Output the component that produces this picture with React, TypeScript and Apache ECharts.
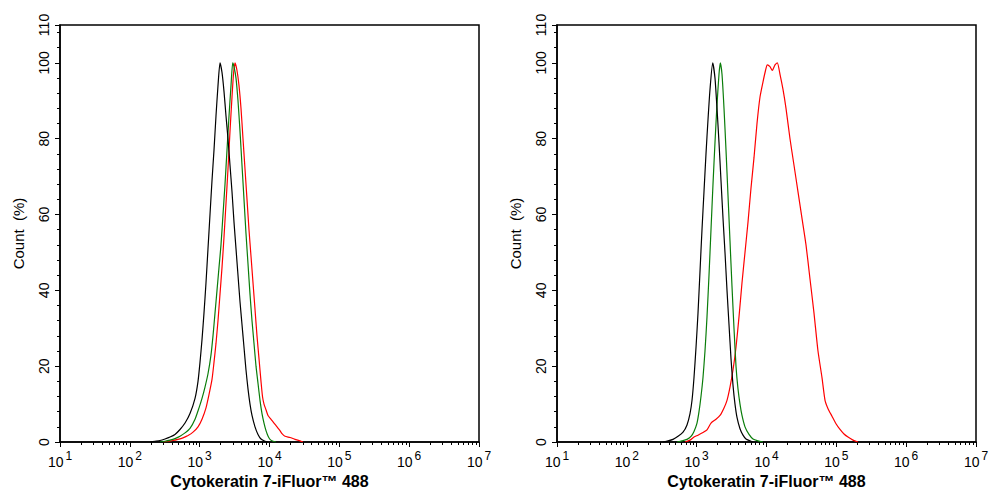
import React, { useEffect, useRef } from 'react';
import * as echarts from 'echarts';

// [fluorescence intensity, count %]
const leftBlack: number[][] = [
  [194.5, 0], [229, 0.2], [270, 0.4], [319, 0.8], [376, 1.3], [443, 2.0], [523, 3.3], [617, 5.0],
  [727, 7.5], [858, 11.5], [947, 16], [1011, 21], [1080, 27], [1153, 34], [1232, 42], [1316, 51],
  [1406, 60], [1502, 69], [1604, 77], [1713, 86], [1830, 94], [1955, 100], [2088, 97.5], [2230, 92.5],
  [2383, 86], [2545, 80], [2719, 73], [2904, 66], [3102, 58], [3313, 51], [3539, 44], [3781, 37],
  [4038, 31], [4313, 25], [4607, 19], [4921, 14], [5258, 10], [5616, 7], [6200, 4], [6844, 2],
  [7556, 0.8], [8622, 0.2], [9518, 0],
];
const leftGreen: number[][] = [
  [270, 0], [319, 0.2], [376, 0.5], [443, 0.9], [523, 1.5], [617, 2.4], [727, 3.6], [858, 6],
  [979, 9], [1080, 11.5], [1192, 14.5], [1316, 18], [1453, 23], [1552, 28], [1658, 34], [1771, 40],
  [1891, 46], [2020, 52], [2158, 60], [2306, 68], [2463, 77], [2631, 86], [2810, 94], [2972, 100],
  [3102, 99], [3313, 96], [3539, 90], [3781, 82], [4038, 73], [4313, 64], [4607, 55], [4921, 47],
  [5258, 39], [5616, 32], [5999, 26], [6408, 20], [6844, 15.5], [7311, 11], [7809, 7.5], [8342, 5],
  [8911, 3], [9518, 1.6], [10167, 0.7], [11224, 0.2], [12391, 0],
];
const leftRed: number[][] = [
  [298, 0], [352, 0.2], [415, 0.4], [489, 0.7], [577, 1.1], [681, 1.7], [803, 2.6], [947, 4.0],
  [1080, 6.0], [1232, 9], [1360, 12.5], [1502, 16.5], [1604, 21], [1713, 26], [1830, 32], [1955, 39],
  [2088, 46], [2230, 54], [2383, 63], [2545, 72], [2719, 82], [2904, 91], [3050, 97], [3206, 100],
  [3424, 98], [3658, 94], [3907, 88], [4174, 80], [4458, 72], [4762, 64], [5086, 56], [5434, 49],
  [5804, 42], [6200, 35], [6622, 28], [7074, 22], [7556, 16], [7939, 12], [8342, 10], [8911, 8.5],
  [9518, 7], [10508, 6], [11600, 5], [12806, 4], [14140, 3], [15104, 2.2], [16670, 1.5], [19660, 1.2],
  [23180, 0.7], [27340, 0.3], [30180, 0],
];
const rightBlack: number[][] = [
  [330, 0], [389, 0.3], [458, 0.7], [541, 1.5], [638, 2.6], [727, 4.5], [803, 7.5], [858, 11],
  [916, 17], [979, 25], [1045, 34], [1116, 45], [1192, 56], [1273, 66], [1360, 76], [1453, 85],
  [1552, 93], [1697, 100], [1830, 96], [1955, 88], [2088, 79], [2230, 69], [2383, 59], [2545, 50],
  [2719, 40], [2904, 31], [3102, 22], [3313, 15], [3539, 10], [3781, 6.5], [4174, 3.5], [4607, 1.8],
  [5086, 0.8], [5804, 0.3], [6408, 0],
];
const rightGreen: number[][] = [
  [523, 0], [617, 0.3], [727, 0.7], [830, 1.5], [916, 2.8], [1011, 5], [1080, 8], [1153, 12],
  [1232, 17], [1316, 24], [1406, 33], [1502, 44], [1604, 56], [1713, 68], [1830, 79], [1955, 89],
  [2088, 97], [2179, 100], [2306, 97], [2463, 88], [2631, 77], [2810, 65], [3001, 53], [3206, 41],
  [3424, 30], [3658, 20], [3907, 14], [4174, 10], [4458, 7], [4921, 4], [5616, 2], [6408, 0.8],
  [7556, 0.3], [8911, 0],
];
const rightRed: number[][] = [
  [681, 0], [803, 0.5], [916, 1.3], [1045, 1.8], [1232, 2.5], [1406, 3.2], [1604, 5], [1891, 6],
  [2158, 7], [2463, 9], [2719, 11], [3001, 14.5], [3313, 19], [3658, 25], [4038, 33], [4458, 42],
  [4921, 50], [5434, 58], [5999, 67], [6622, 75], [7311, 84], [8071, 91], [8911, 95], [9676, 98],
  [10268, 99.5], [11224, 99], [12109, 98], [13238, 99.5], [14280, 100], [15607, 97], [17228, 93],
  [19023, 88], [21702, 80], [24759, 73], [28256, 66], [32240, 59], [36783, 52], [41960, 43],
  [47876, 34], [54615, 24], [62320, 17], [68870, 11], [76030, 8.8], [86700, 6.8], [98900, 4.8],
  [112900, 3.3], [128800, 2.1], [146900, 1.3], [173400, 0.5], [204200, 0],
];

const xMin = 10;
const xMax = 1e7;
const yMax = 110;
const yMajorStep = 20;
const yMinorStep = 4;
const xTitle = 'Cytokeratin 7-iFluor\u2122 488';
const yTitle = 'Count  (%)';

const FONT = '"Liberation Sans", Arial, Helvetica, sans-serif';
const BLACK = '#000000';
const GREEN = '#0a7d0a';
const RED = '#ff0000';

export default function App() {
  const ref = useRef<HTMLDivElement>(null);

  useEffect(() => {
    if (!ref.current) return;
    const chart = echarts.init(ref.current, undefined, { renderer: 'svg' });

    const gridBase = { top: 25, width: 419, height: 417, show: true, borderColor: BLACK, borderWidth: 1.5 };

    const makeX = (gridIndex: number) => ({
      type: 'log',
      logBase: 10,
      gridIndex,
      min: xMin,
      max: xMax,
      position: 'bottom',
      axisLine: { show: true, lineStyle: { color: BLACK, width: 1.5 } },
      axisTick: { show: true, length: 5, lineStyle: { color: BLACK, width: 1 } },
      minorTick: { show: true, splitNumber: 9, length: 3, lineStyle: { color: BLACK, width: 1 } },
      splitLine: { show: false },
      minorSplitLine: { show: false },
      axisLabel: {
        margin: 8,
        formatter: (v: number) => `{b|10}{s|${Math.round(Math.log10(v))}}`,
        rich: {
          b: { fontFamily: FONT, fontSize: 14, color: BLACK, lineHeight: 24 },
          s: { fontFamily: FONT, fontSize: 12, color: BLACK, lineHeight: 14, verticalAlign: 'top', padding: [0, 0, 0, 2] },
        },
      },
      name: xTitle,
      nameLocation: 'middle',
      nameGap: 29,
      nameTextStyle: { fontFamily: FONT, fontSize: 16, fontWeight: 'bold', color: BLACK },
    });

    const makeY = (gridIndex: number) => ({
      type: 'value',
      gridIndex,
      position: 'left',
      min: 0,
      max: yMax,
      interval: yMajorStep,
      axisLine: { show: true, lineStyle: { color: BLACK, width: 1.5 } },
      axisTick: { show: true, length: 5, lineStyle: { color: BLACK, width: 1 } },
      splitLine: { show: false },
      axisLabel: { rotate: 90, margin: 9, fontFamily: FONT, fontSize: 14, color: BLACK },
      name: yTitle,
      nameLocation: 'middle',
      nameRotate: 90,
      nameGap: 34,
      nameTextStyle: { fontFamily: FONT, fontSize: 15, color: BLACK },
    });

    const makeYMinor = (gridIndex: number) => ({
      type: 'value',
      gridIndex,
      position: 'left',
      offset: 0,
      min: 0,
      max: yMax,
      interval: yMinorStep,
      axisLine: { show: false },
      axisTick: { show: true, length: 3, lineStyle: { color: BLACK, width: 1 } },
      axisLabel: { show: false },
      splitLine: { show: false },
    });

    const line = (data: number[][], color: string, xi: number, yi: number) => ({
      type: 'line',
      data,
      xAxisIndex: xi,
      yAxisIndex: yi,
      showSymbol: false,
      symbol: 'none',
      smooth: 0.2,
      silent: true,
      lineStyle: { color, width: 1.2 },
    });

    chart.setOption({
      animation: false,
      backgroundColor: '#ffffff',
      grid: [
        { ...gridBase, left: 60 },
        { ...gridBase, left: 557 },
      ],
      xAxis: [makeX(0), makeX(1)],
      yAxis: [makeY(0), makeYMinor(0), makeY(1), makeYMinor(1)],
      series: [
        line(leftRed, RED, 0, 0),
        line(leftGreen, GREEN, 0, 0),
        line(leftBlack, BLACK, 0, 0),
        line(rightRed, RED, 1, 2),
        line(rightGreen, GREEN, 1, 2),
        line(rightBlack, BLACK, 1, 2),
      ],
    });

    return () => chart.dispose();
  }, []);

  return (
    <div
      ref={ref}
      style={{ position: 'fixed', left: 0, top: 0, width: 994, height: 501, background: '#fff' }}
    />
  );
}
